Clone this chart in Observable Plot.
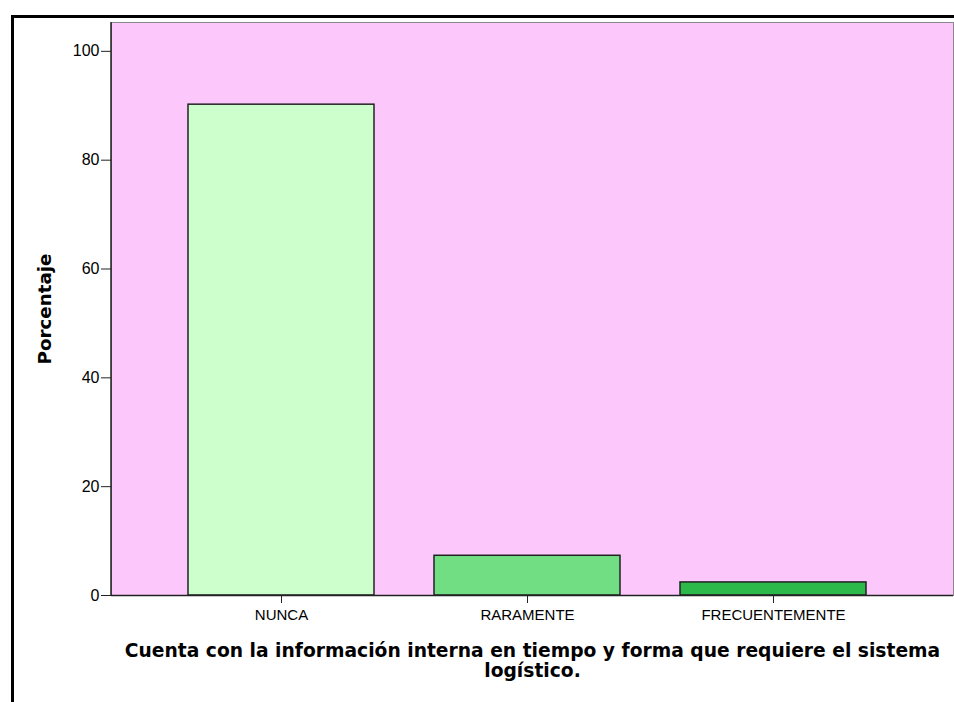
<!DOCTYPE html>
<html>
<head>
<meta charset="utf-8">
<script src="https://cdn.jsdelivr.net/npm/d3@7"></script>
<script src="https://cdn.jsdelivr.net/npm/@observablehq/plot@0.6"></script>
<style>
  html, body { margin: 0; padding: 0; background: #fff; }
  #wrap { position: relative; width: 954px; height: 702px; overflow: hidden; }
  #border { position: absolute; left: 11px; top: 15px; width: 1000px; height: 1000px;
            border-top: 3px solid #000; border-left: 3px solid #000; }
  #chart { position: absolute; left: 0; top: 0; }
</style>
</head>
<body>
<div id="wrap"><div id="border"></div><div id="chart"></div></div>
<script>
const categories = ["NUNCA", "RARAMENTE", "FRECUENTEMENTE"];
const percentages = [90.2, 7.3, 2.4];
const barColors = ["#ccffcc", "#72de84", "#2db84a"];
const yTicks = [0, 20, 40, 60, 80, 100];
const yTitle = "Porcentaje";
const xTitle = "Cuenta con la información interna en tiempo y forma que requiere el sistema\nlogístico.";

const data = categories.map((c, i) => ({category: c, value: percentages[i]}));

const plot = Plot.plot({
  width: 954,
  height: 702,
  marginTop: 22,
  marginLeft: 111,
  marginRight: 1,
  marginBottom: 107,
  style: {fontFamily: "'Liberation Sans', Arial, sans-serif", fontSize: "15px", color: "#000", background: "transparent"},
  x: {domain: categories, range: [113, 940], paddingInner: 0.245, paddingOuter: 0.3, label: null},
  y: {domain: [0, 105.3], label: null},
  color: {domain: categories, range: barColors},
  marks: [
    Plot.frame({fill: "#fcc8fc", stroke: "#888", strokeWidth: 1}),
    Plot.barY(data, {x: "category", y: "value", fill: "category", stroke: "#222", strokeWidth: 1.5}),
    Plot.axisY({ticks: yTicks, tickSize: 10, tickPadding: 2, label: null, fontSize: 16, stroke: "#222"}),
    Plot.axisX({tickSize: 8, tickPadding: 6, label: null, fontSize: 15, stroke: "#222"}),
    Plot.ruleY([0], {stroke: "#222", strokeWidth: 1.5}),
    Plot.text([yTitle], {frameAnchor: "left", dx: -66, rotate: -90, textAnchor: "middle", text: d => d,
      fontFamily: "'DejaVu Sans', sans-serif", fontWeight: "bold", fontSize: 18.3, fill: "#000"}),
    Plot.text([xTitle], {frameAnchor: "bottom", dy: 48, lineAnchor: "top", lineHeight: 1.04, text: d => d,
      fontFamily: "'DejaVu Sans', sans-serif", fontWeight: "bold", fontSize: 18.7, fill: "#000"})
  ]
});
document.getElementById("chart").appendChild(plot);
// left axis line (black)
d3.select(plot).append("line").attr("x1", 111).attr("x2", 111).attr("y1", 22).attr("y2", 595)
  .attr("stroke", "#222").attr("stroke-width", 1.5);
</script>
</body>
</html>
